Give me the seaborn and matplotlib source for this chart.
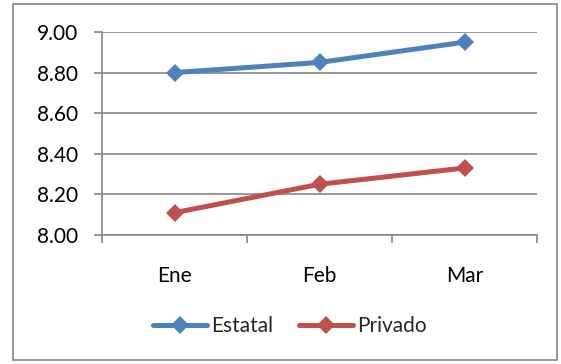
import pandas as pd
import seaborn as sns
import matplotlib.pyplot as plt
from matplotlib.patches import Rectangle

meses = ["Ene", "Feb", "Mar"]
estatal = [8.80, 8.85, 8.95]
privado = [8.11, 8.25, 8.33]

df = pd.DataFrame({
    "mes": meses * 2,
    "valor": estatal + privado,
    "serie": ["Estatal"] * 3 + ["Privado"] * 3,
})

sns.set_style("white")
plt.rcParams['font.family'] = ['Lato', 'DejaVu Sans']

fig = plt.figure(figsize=(5.61, 3.64), dpi=100)
ax = fig.add_axes([102/561, 1 - 235/364, 435/561, 203/364])

pal = {"Estatal": "#4F81BD", "Privado": "#C0504D"}
sns.lineplot(data=df, x="mes", y="valor", hue="serie", style="serie",
             markers={"Estatal": "D", "Privado": "D"}, dashes=False,
             palette=pal, linewidth=3.6, markersize=9.5, markeredgewidth=0,
             ax=ax, sort=False)

ax.set_xlim(-0.5, 2.5)
ax.set_ylim(8.0, 9.0)
ax.set_yticks([8.0, 8.2, 8.4, 8.6, 8.8, 9.0])
ax.set_yticklabels([f"{v:.2f}" for v in [8.0, 8.2, 8.4, 8.6, 8.8, 9.0]])
ax.set_xticks([0, 1, 2])
ax.set_xticklabels(meses)
ax.set_xticks([-0.5, 0.5, 1.5, 2.5], minor=True)
ax.set_xlabel("")
ax.set_ylabel("")
ax.yaxis.grid(True, color="#868686", linewidth=1.2)
for s in ["top", "right"]:
    ax.spines[s].set_visible(False)
for s in ["left", "bottom"]:
    ax.spines[s].set_color("#868686")
    ax.spines[s].set_linewidth(1.2)
ax.tick_params(axis="y", which="major", left=True, length=6, color="#868686",
               width=1.2, pad=11, labelsize=15, labelcolor="black")
ax.tick_params(axis="x", which="major", bottom=False, pad=19, labelsize=15,
               labelcolor="black")
ax.tick_params(axis="x", which="minor", bottom=True, length=6, color="#868686",
               width=1.2)

ax.get_legend().remove()
handles, labels = ax.get_legend_handles_labels()
fig.legend(handles, labels, loc="center", bbox_to_anchor=(290/561, 1 - 326/364),
           ncol=2, frameon=False, fontsize=15, handlelength=2.6,
           handletextpad=0.2, columnspacing=1.25)

fig.patches.append(Rectangle((13/561, 4/364), 544/561, 356/364,
                             transform=fig.transFigure, fill=False,
                             edgecolor="#868686", linewidth=1.2))

fig.savefig("out.png", dpi=100)
